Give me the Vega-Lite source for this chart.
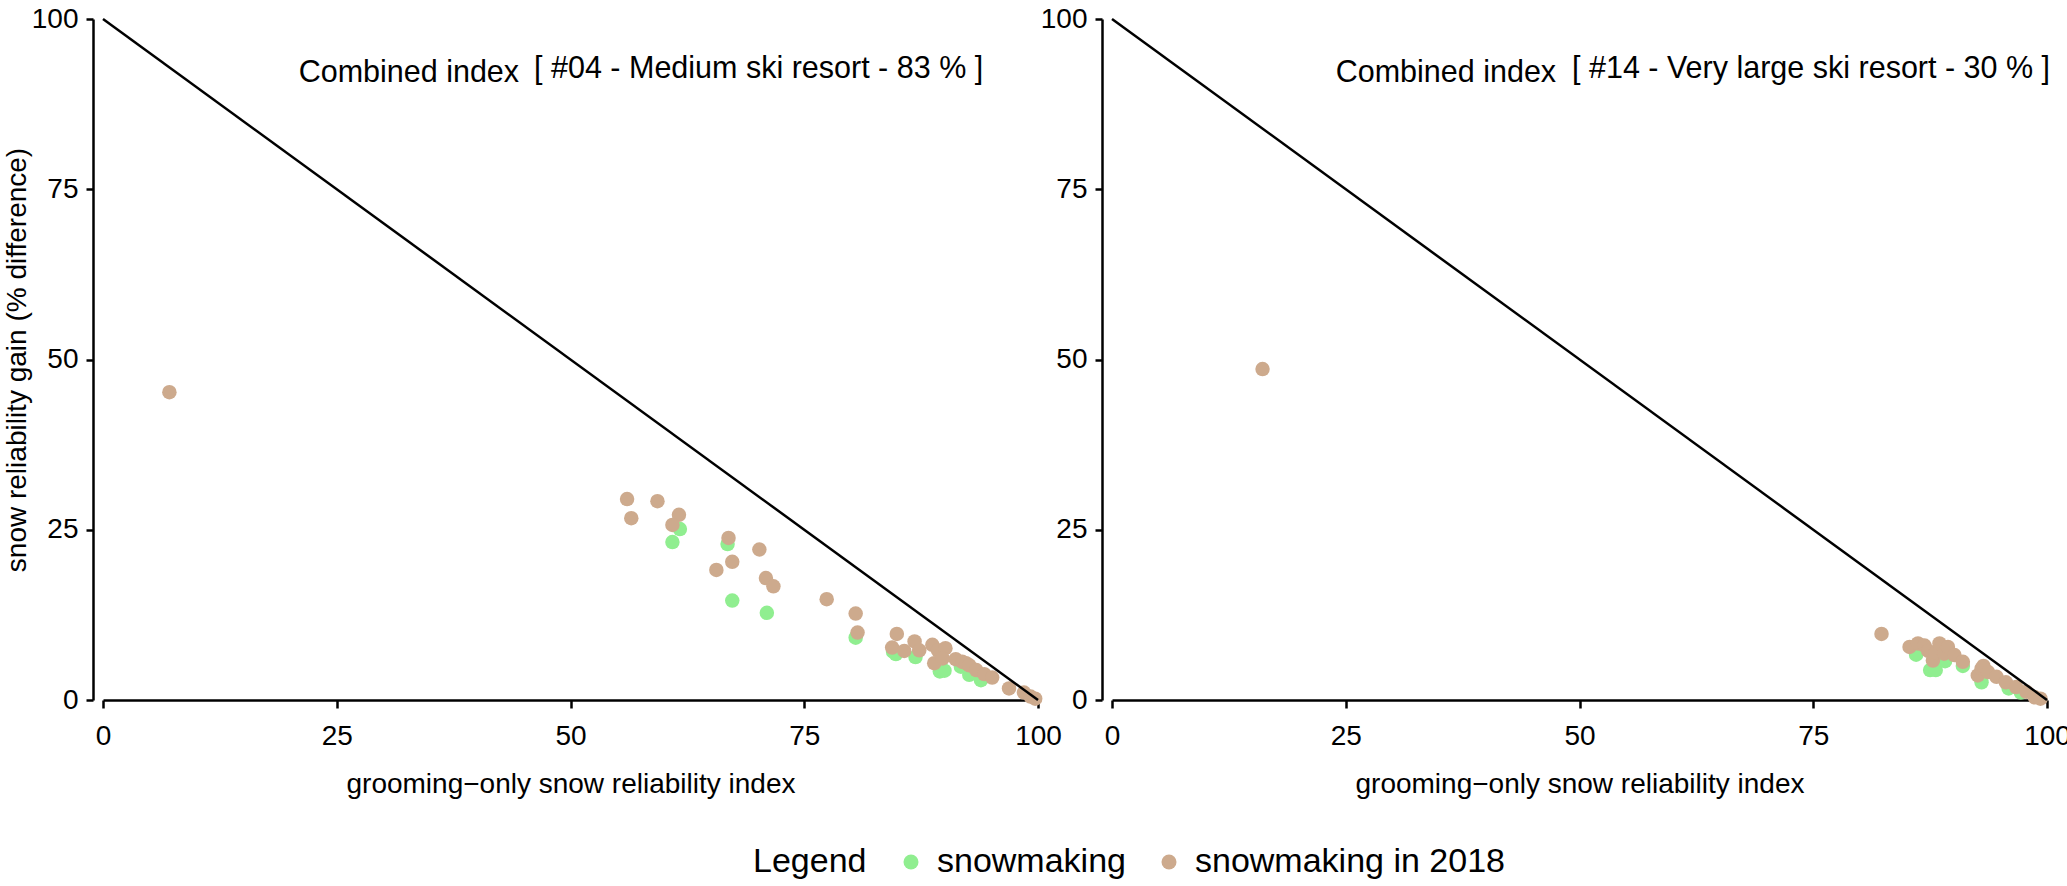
{
  "$schema": "https://vega.github.io/schema/vega-lite/v6.json",
  "padding": {"left": 3, "top": 5, "right": 5, "bottom": 5},
  "bounds": "flush",
  "spacing": 74,
  "datasets": {
    "pts": [
      {"panel": "A", "series": "snowmaking", "x": 60.9, "y": 23.2},
      {"panel": "A", "series": "snowmaking", "x": 61.7, "y": 25.1},
      {"panel": "A", "series": "snowmaking", "x": 66.8, "y": 22.9},
      {"panel": "A", "series": "snowmaking", "x": 67.3, "y": 14.6},
      {"panel": "A", "series": "snowmaking", "x": 71.0, "y": 12.8},
      {"panel": "A", "series": "snowmaking", "x": 80.5, "y": 9.15},
      {"panel": "A", "series": "snowmaking", "x": 84.5, "y": 7.1},
      {"panel": "A", "series": "snowmaking", "x": 84.8, "y": 6.75},
      {"panel": "A", "series": "snowmaking", "x": 86.9, "y": 6.3},
      {"panel": "A", "series": "snowmaking", "x": 89.5, "y": 4.2},
      {"panel": "A", "series": "snowmaking", "x": 90.0, "y": 4.3},
      {"panel": "A", "series": "snowmaking", "x": 91.75, "y": 4.9},
      {"panel": "A", "series": "snowmaking", "x": 92.65, "y": 3.7},
      {"panel": "A", "series": "snowmaking", "x": 93.9, "y": 2.9},
      {"panel": "A", "series": "snowmaking in 2018", "x": 7.1, "y": 45.2},
      {"panel": "A", "series": "snowmaking in 2018", "x": 56.05, "y": 29.5},
      {"panel": "A", "series": "snowmaking in 2018", "x": 56.5, "y": 26.7},
      {"panel": "A", "series": "snowmaking in 2018", "x": 59.3, "y": 29.2},
      {"panel": "A", "series": "snowmaking in 2018", "x": 61.6, "y": 27.2},
      {"panel": "A", "series": "snowmaking in 2018", "x": 60.9, "y": 25.7},
      {"panel": "A", "series": "snowmaking in 2018", "x": 66.9, "y": 23.8},
      {"panel": "A", "series": "snowmaking in 2018", "x": 70.2, "y": 22.1},
      {"panel": "A", "series": "snowmaking in 2018", "x": 67.3, "y": 20.3},
      {"panel": "A", "series": "snowmaking in 2018", "x": 65.6, "y": 19.1},
      {"panel": "A", "series": "snowmaking in 2018", "x": 70.9, "y": 17.9},
      {"panel": "A", "series": "snowmaking in 2018", "x": 71.7, "y": 16.7},
      {"panel": "A", "series": "snowmaking in 2018", "x": 77.4, "y": 14.8},
      {"panel": "A", "series": "snowmaking in 2018", "x": 80.5, "y": 12.7},
      {"panel": "A", "series": "snowmaking in 2018", "x": 80.7, "y": 9.9},
      {"panel": "A", "series": "snowmaking in 2018", "x": 84.9, "y": 9.7},
      {"panel": "A", "series": "snowmaking in 2018", "x": 84.4, "y": 7.7},
      {"panel": "A", "series": "snowmaking in 2018", "x": 85.7, "y": 7.2},
      {"panel": "A", "series": "snowmaking in 2018", "x": 86.8, "y": 8.6},
      {"panel": "A", "series": "snowmaking in 2018", "x": 87.3, "y": 7.3},
      {"panel": "A", "series": "snowmaking in 2018", "x": 88.7, "y": 8.1},
      {"panel": "A", "series": "snowmaking in 2018", "x": 89.3, "y": 7.3},
      {"panel": "A", "series": "snowmaking in 2018", "x": 90.1, "y": 7.6},
      {"panel": "A", "series": "snowmaking in 2018", "x": 88.9, "y": 5.4},
      {"panel": "A", "series": "snowmaking in 2018", "x": 89.8, "y": 6.1},
      {"panel": "A", "series": "snowmaking in 2018", "x": 91.2, "y": 6.0},
      {"panel": "A", "series": "snowmaking in 2018", "x": 91.9, "y": 5.6},
      {"panel": "A", "series": "snowmaking in 2018", "x": 92.3, "y": 5.4},
      {"panel": "A", "series": "snowmaking in 2018", "x": 92.65, "y": 5.1},
      {"panel": "A", "series": "snowmaking in 2018", "x": 93.4, "y": 4.4},
      {"panel": "A", "series": "snowmaking in 2018", "x": 94.25, "y": 3.8},
      {"panel": "A", "series": "snowmaking in 2018", "x": 95.1, "y": 3.3},
      {"panel": "A", "series": "snowmaking in 2018", "x": 96.9, "y": 1.7},
      {"panel": "A", "series": "snowmaking in 2018", "x": 98.5, "y": 1.1},
      {"panel": "A", "series": "snowmaking in 2018", "x": 99.2, "y": 0.5},
      {"panel": "A", "series": "snowmaking in 2018", "x": 99.7, "y": 0.2},
      {"panel": "B", "series": "snowmaking", "x": 86.0, "y": 6.65},
      {"panel": "B", "series": "snowmaking", "x": 87.5, "y": 4.4},
      {"panel": "B", "series": "snowmaking", "x": 88.1, "y": 4.4},
      {"panel": "B", "series": "snowmaking", "x": 89.1, "y": 5.7},
      {"panel": "B", "series": "snowmaking", "x": 91.0, "y": 5.0},
      {"panel": "B", "series": "snowmaking", "x": 93.0, "y": 2.6},
      {"panel": "B", "series": "snowmaking", "x": 95.9, "y": 1.7},
      {"panel": "B", "series": "snowmaking", "x": 97.2, "y": 1.1},
      {"panel": "B", "series": "snowmaking in 2018", "x": 16.1, "y": 48.6},
      {"panel": "B", "series": "snowmaking in 2018", "x": 82.3, "y": 9.7},
      {"panel": "B", "series": "snowmaking in 2018", "x": 85.3, "y": 7.8},
      {"panel": "B", "series": "snowmaking in 2018", "x": 86.2, "y": 8.3},
      {"panel": "B", "series": "snowmaking in 2018", "x": 86.9, "y": 8.0},
      {"panel": "B", "series": "snowmaking in 2018", "x": 87.3, "y": 7.2},
      {"panel": "B", "series": "snowmaking in 2018", "x": 87.8, "y": 5.8},
      {"panel": "B", "series": "snowmaking in 2018", "x": 88.1, "y": 7.0},
      {"panel": "B", "series": "snowmaking in 2018", "x": 88.5, "y": 8.3},
      {"panel": "B", "series": "snowmaking in 2018", "x": 89.0, "y": 6.8},
      {"panel": "B", "series": "snowmaking in 2018", "x": 89.4, "y": 7.8},
      {"panel": "B", "series": "snowmaking in 2018", "x": 90.1, "y": 6.6},
      {"panel": "B", "series": "snowmaking in 2018", "x": 91.0, "y": 5.6},
      {"panel": "B", "series": "snowmaking in 2018", "x": 92.6, "y": 3.6},
      {"panel": "B", "series": "snowmaking in 2018", "x": 93.0, "y": 4.6},
      {"panel": "B", "series": "snowmaking in 2018", "x": 93.2, "y": 5.0},
      {"panel": "B", "series": "snowmaking in 2018", "x": 93.7, "y": 4.1},
      {"panel": "B", "series": "snowmaking in 2018", "x": 94.6, "y": 3.4},
      {"panel": "B", "series": "snowmaking in 2018", "x": 95.6, "y": 2.6},
      {"panel": "B", "series": "snowmaking in 2018", "x": 96.7, "y": 1.9},
      {"panel": "B", "series": "snowmaking in 2018", "x": 97.8, "y": 1.2},
      {"panel": "B", "series": "snowmaking in 2018", "x": 98.7, "y": 0.4},
      {"panel": "B", "series": "snowmaking in 2018", "x": 99.3, "y": 0.2}
    ]
  },
  "hconcat": [
    {
      "width": 935,
      "height": 681,
      "layer": [
        {
          "data": {"name": "pts"},
          "transform": [{"filter": "datum.panel === 'A'"}],
          "mark": {"type": "point", "filled": true, "opacity": 1, "size": 210},
          "encoding": {
            "x": {"field": "x", "type": "quantitative", "scale": {"domain": [0, 100], "nice": false, "zero": false},
                  "axis": {"values": [0, 25, 50, 75, 100], "title": "grooming−only snow reliability index"}},
            "y": {"field": "y", "type": "quantitative", "scale": {"domain": [0, 100], "nice": false, "zero": false},
                  "axis": {"values": [0, 25, 50, 75, 100], "title": "snow reliability gain (% difference)", "offset": 10}},
            "color": {"field": "series", "type": "nominal",
                      "scale": {"domain": ["snowmaking", "snowmaking in 2018"], "range": ["#90EE90", "#CDAA8D"]},
                      "legend": {"title": "Legend", "orient": "none", "legendX": 650, "legendY": 826,
                                 "direction": "horizontal", "titleOrient": "left"}}
          }
        },
        {
          "data": {"values": [{}]},
          "mark": {"type": "rule", "color": "black", "strokeWidth": 2.5},
          "encoding": {"x": {"datum": 0}, "y": {"datum": 100}, "x2": {"datum": 100}, "y2": {"datum": 0}}
        },
        {
          "data": {"values": [{}]},
          "mark": {"type": "text", "text": "Combined index", "align": "right", "baseline": "alphabetic", "fontSize": 30.5, "color": "black"},
          "encoding": {"x": {"datum": 44.5}, "y": {"datum": 90.8}}
        },
        {
          "data": {"values": [{}]},
          "mark": {"type": "text", "text": "[ #04 - Medium ski resort - 83 % ]", "align": "left", "baseline": "alphabetic", "fontSize": 30.5, "color": "black"},
          "encoding": {"x": {"datum": 46.1}, "y": {"datum": 91.3}}
        }
      ]
    },
    {
      "width": 935,
      "height": 681,
      "layer": [
        {
          "data": {"name": "pts"},
          "transform": [{"filter": "datum.panel === 'B'"}],
          "mark": {"type": "point", "filled": true, "opacity": 1, "size": 210},
          "encoding": {
            "x": {"field": "x", "type": "quantitative", "scale": {"domain": [0, 100], "nice": false, "zero": false},
                  "axis": {"values": [0, 25, 50, 75, 100], "title": "grooming−only snow reliability index"}},
            "y": {"field": "y", "type": "quantitative", "scale": {"domain": [0, 100], "nice": false, "zero": false},
                  "axis": {"values": [0, 25, 50, 75, 100], "title": null, "offset": 10}},
            "color": {"field": "series", "type": "nominal"}
          }
        },
        {
          "data": {"values": [{}]},
          "mark": {"type": "rule", "color": "black", "strokeWidth": 2.5},
          "encoding": {"x": {"datum": 0}, "y": {"datum": 100}, "x2": {"datum": 100}, "y2": {"datum": 0}}
        },
        {
          "data": {"values": [{}]},
          "mark": {"type": "text", "text": "Combined index", "align": "right", "baseline": "alphabetic", "fontSize": 30.5, "color": "black"},
          "encoding": {"x": {"datum": 47.5}, "y": {"datum": 90.8}}
        },
        {
          "data": {"values": [{}]},
          "mark": {"type": "text", "text": "[ #14 - Very large ski resort - 30 % ]", "align": "left", "baseline": "alphabetic", "fontSize": 30.5, "color": "black"},
          "encoding": {"x": {"datum": 49.2}, "y": {"datum": 91.3}}
        }
      ]
    }
  ],
  "config": {
    "font": "Liberation Sans",
    "view": {"stroke": null},
    "axis": {
      "grid": false,
      "domainColor": "black",
      "domainWidth": 2.5,
      "tickColor": "black",
      "tickWidth": 2.5,
      "tickSize": 8,
      "labelColor": "black",
      "labelFontSize": 28,
      "labelFont": "Liberation Sans",
      "titleColor": "black",
      "titleFontSize": 28,
      "titleFontWeight": "normal",
      "titleFont": "Liberation Sans"
    },
    "axisX": {"labelPadding": 14, "titlePadding": 20, "labelFlush": false},
    "axisY": {"labelPadding": 8, "titlePadding": 0, "tickSize": 7, "labelFlush": false},
    "legend": {
      "titleFontSize": 34,
      "titleFontWeight": "normal",
      "titleColor": "black",
      "titleFont": "Liberation Sans",
      "titlePadding": 27,
      "labelFontSize": 34,
      "labelColor": "black",
      "labelFont": "Liberation Sans",
      "labelLimit": 0,
      "labelOffset": 9,
      "columnPadding": 26,
      "symbolType": "circle",
      "symbolSize": 225,
      "symbolStrokeWidth": 0,
      "symbolOpacity": 1
    }
  }
}
